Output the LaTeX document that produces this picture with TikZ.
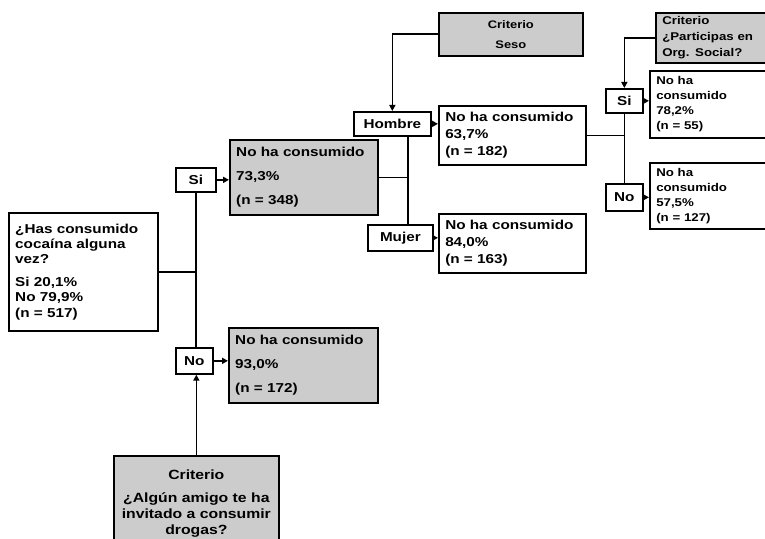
\documentclass[tikz,border=0pt]{standalone}
\usepackage{fontspec}
\setmainfont{Liberation Sans}[FakeStretch=1.18]
\usepackage{xcolor}
\usetikzlibrary{arrows.meta, positioning}
\tikzset{
  % result boxes
  leaf/.style={rectangle, draw=black, line width=1.2pt, fill=#1, anchor=north west, align=left, inner xsep=1.6mm, inner ysep=0.8mm, font=\bfseries\fontsize{9.2}{11}\selectfont},
  leaf/.default=white,
  smallleaf/.style={leaf=#1, font=\bfseries\fontsize{8}{10.7}\selectfont},
  smallleaf/.default=white,
  % branch labels
  tag/.style={rectangle, draw=black, line width=1.2pt, fill=white, anchor=north west, inner sep=0pt, text centered, font=\bfseries\fontsize{9.2}{11}\selectfont},
  % split criteria
  crit/.style={rectangle, draw=black, line width=1.2pt, fill=gray!40, anchor=north west, align=center, inner xsep=1.6mm, inner ysep=0.8mm, font=\bfseries\fontsize{#1}{11.4}\selectfont},
  crit/.default={9.5},
  link/.style={line width=1.2pt},
  arrow/.style={link, -{Triangle[length=1.5mm, width=1.5mm]}},
}
\begin{document}
\begin{tikzpicture}[x=0.25mm, y=-0.25mm]
    \useasboundingbox (0,0) rectangle (765,538);
    \clip (0,0) rectangle (765,538);
    % root
    \node[leaf, text width=34.05mm, minimum height=29.5mm] (root) at (8,212)
      {¿Has consumido\\cocaína alguna\\vez?\\[5pt]Si 20,1\%\\No 79,9\%\\(n = 517)};
    % first split
    \node[tag, minimum width=10mm, minimum height=6mm] (siA) at (175,167) {Si};
    \node[tag, minimum width=9.25mm, minimum height=6.5mm] (noA) at (175,347) {No};
    \node[leaf=gray!40, text width=33.8mm, minimum height=18.75mm] (gA) at (229,139)
      {No ha consumido\\[6pt]73,3\%\\[6pt](n = 348)};
    \node[leaf=gray!40, text width=34.05mm, minimum height=18.75mm] (gB) at (228,327)
      {No ha consumido\\[6pt]93,0\%\\[6pt](n = 172)};
    \node[crit, text width=38.05mm, minimum height=23.75mm] (crit1) at (113,455)
      {Criterio\\[5pt]¿Algún amigo te ha\\invitado a consumir\\drogas?};
    % second split
    \coordinate (jA) at (408,0);
    \node[crit=7.8, text width=32.8mm, minimum height=10.75mm] (crit2) at (438,12)
      {Criterio\\[3pt]Seso};
    \node[tag, minimum width=19.25mm, minimum height=6mm] (hombre) at (353,111) {Hombre};
    \node[tag, minimum width=16.25mm, minimum height=6.5mm] (mujer) at (367,224) {Mujer};
    \node[leaf, text width=33.55mm, minimum height=14.75mm] (rH) at (438,105)
      {No ha consumido\\[1pt]63,7\%\\[1pt](n = 182)};
    \node[leaf, text width=33.55mm, minimum height=14.75mm] (rM) at (438,213)
      {No ha consumido\\[1pt]84,0\%\\[1pt](n = 163)};
    % third split
    \node[crit=8, align=left, text width=27.3mm, minimum height=12.5mm] (crit3) at (655,12)
      {Criterio\\¿Participas en\\Org. Social?};
    \node[tag, minimum width=9.25mm, minimum height=6mm] (siB) at (605,88) {Si};
    \node[tag, minimum width=9.25mm, minimum height=6.75mm] (noB) at (605,183) {No};
    \node[smallleaf, text width=27.3mm, minimum height=16.75mm] (rS) at (649,70)
      {No ha\\consumido\\78,2\%\\(n = 55)};
    \node[smallleaf, text width=27.3mm, minimum height=16.5mm] (rN) at (649,162)
      {No ha\\consumido\\57,5\%\\(n = 127)};
    % connectors
    \draw[link] (root.east) -- (root.east -| siA.south);
    \draw[link] (siA.south) -- (siA.south |- noA.north);
    \draw[arrow] (siA.east) -- (siA.east -| gA.west);
    \draw[arrow] (noA.east) -- (noA.east -| gB.west);
    \draw[arrow] (crit1.north) -- (crit1.north |- noA.south);
    \draw[link] (gA.east) -- (gA.east -| jA);
    \draw[link] (hombre.south -| jA) -- (mujer.north -| jA);
    \draw[arrow] (crit2.west) -| (hombre.north);
    \draw[arrow] (hombre.east) -- (hombre.east -| rH.west);
    \draw[arrow] (mujer.east) -- (mujer.east -| rM.west);
    \draw[link] (rH.east) -- (rH.east -| siB.south);
    \draw[link] (siB.south) -- (noB.north);
    \draw[arrow] (crit3.west) -| (siB.north);
    \draw[arrow] (siB.east) -- (siB.east -| rS.west);
    \draw[arrow] (noB.east) -- (noB.east -| rN.west);
\end{tikzpicture}
\end{document}
